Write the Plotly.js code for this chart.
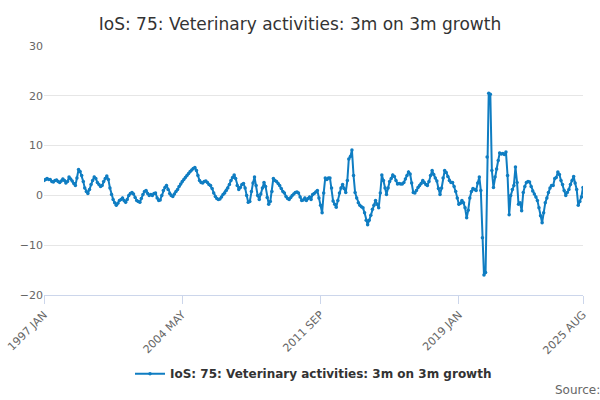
<!DOCTYPE html>
<html>
<head>
<meta charset="utf-8">
<script src="https://cdn.plot.ly/plotly-3.0.1.min.js"></script>
<style>body{margin:0}#chart{width:600px;height:400px}</style>
</head>
<body>
<div id="chart"></div>
<script>
const startYear = 1997;
const values = [
  3.0,3.2,3.4,3.2,3.2,2.8,2.7,3.0,3.1,2.8,2.6,2.9,
  3.3,3.0,2.5,2.8,3.7,3.3,2.9,2.4,2.0,3.5,5.2,4.8,
  4.0,2.8,1.5,0.8,0.4,1.2,2.2,3.0,3.7,3.4,2.6,2.2,
  1.8,2.0,2.8,3.4,3.9,3.2,1.5,0.2,-0.8,-1.5,-2.0,-1.6,
  -1.0,-0.8,-0.5,-1.0,-1.4,-0.8,0.0,0.4,0.6,0.3,-0.4,-1.0,
  -1.2,-1.4,-0.6,0.2,0.8,1.0,0.4,0.0,0.2,0.0,0.4,0.5,
  -0.5,-1.0,-0.9,0.0,1.0,1.6,2.0,1.2,0.4,0.0,-0.2,0.3,
  0.8,1.2,1.8,2.3,2.8,3.2,3.6,4.0,4.4,4.8,5.1,5.4,
  5.6,5.0,4.0,3.0,2.6,2.5,2.8,2.9,2.6,2.2,2.0,1.4,
  0.5,-0.2,-0.6,-0.8,-0.7,-0.3,0.2,0.5,1.0,1.5,2.2,3.0,
  3.6,4.1,3.4,2.0,1.2,1.6,2.2,2.4,1.5,0.0,-1.4,-1.2,
  0.8,2.5,3.7,2.0,0.0,-0.8,0.3,1.5,2.6,1.8,-0.4,-1.8,
  -1.2,0.8,3.4,3.0,2.8,2.4,2.0,1.4,0.8,0.5,-0.2,-0.6,
  -0.8,-0.4,0.0,0.3,0.6,0.7,0.5,-0.3,-1.0,-0.9,-0.5,-1.0,
  -0.6,-0.3,-0.8,0.2,0.4,0.7,1.0,-0.5,-2.0,-3.5,0.5,3.5,
  3.2,3.5,3.5,1.5,-1.1,-1.8,-2.4,-1.0,0.5,1.5,2.2,1.4,
  0.6,3.0,7.3,7.8,9.1,4.0,0.6,-0.5,-1.5,-2.0,-2.3,-2.5,
  -3.5,-5.0,-5.9,-5.0,-4.0,-2.8,-2.0,-1.0,-1.8,-2.5,0.5,4.1,
  3.0,1.5,0.2,1.5,2.8,3.4,4.1,3.8,3.0,2.3,2.4,2.3,
  2.3,2.6,3.3,4.0,4.7,4.3,2.5,0.6,0.5,1.0,1.6,2.0,
  2.4,3.0,2.6,2.2,2.0,2.8,4.0,5.0,4.2,3.5,2.9,1.4,
  0.2,1.5,3.5,5.0,4.6,3.8,3.0,2.6,2.6,1.8,0.8,-0.5,
  -1.8,-1.6,-1.0,-1.5,-2.5,-4.5,-3.0,-0.5,0.8,1.4,1.2,1.0,
  2.5,3.7,1.0,-8.5,-16.0,-15.5,7.7,20.5,20.3,5.0,1.6,3.7,
  5.3,7.0,8.5,8.3,8.4,8.2,8.7,4.0,-3.9,0.0,1.2,2.0,
  5.7,2.6,-1.8,-1.5,-3.1,0.6,1.8,2.6,2.8,2.7,1.8,0.9,
  0.3,-0.3,-1.0,-2.5,-4.1,-5.5,-3.5,-1.5,-0.5,0.6,1.5,2.0,
  2.0,3.4,3.6,4.7,4.2,3.0,2.2,1.0,0.0,0.6,1.2,2.2,
  3.0,3.8,2.5,1.2,-2.0,-1.2,-0.3,1.6
];
const tickMonths = ['1997-01-01', '2004-05-01', '2011-09-01', '2019-01-01', '2025-08-01'];
const tickLabels = ['1997 JAN', '2004 MAY', '2011 SEP', '2019 JAN', '2025 AUG'];

const dates = values.map((v, i) => {
  const y = startYear + Math.floor(i / 12);
  const m = (i % 12) + 1;
  return `${y}-${String(m).padStart(2, '0')}-01`;
});

const trace = {
  type: 'scatter',
  mode: 'lines+markers',
  name: '<b>IoS: 75: Veterinary activities: 3m on 3m growth</b>',
  x: dates,
  y: values,
  line: { color: '#0f7dc2', width: 2 },
  marker: { color: '#0f7dc2', size: 3.5 },
};

const layout = {
  width: 600, height: 400,
  font: { family: 'DejaVu Sans, sans-serif', size: 11, color: '#666' },
  title: { text: 'IoS: 75: Veterinary activities: 3m on 3m growth', x: 0.5, y: 0.955, font: { size: 17, color: '#333' } },
  margin: { l: 44, r: 17, t: 46, b: 108 - 10 },
  paper_bgcolor: '#fff', plot_bgcolor: '#fff',
  xaxis: {
    type: 'date', range: ['1997-01-01', '2025-08-01'],
    tickvals: tickMonths, ticktext: tickLabels, tickangle: -45,
    showgrid: false, zeroline: false, showline: true, linecolor: '#ccd6eb',
    ticks: 'outside', ticklen: 8, tickcolor: '#ccd6eb', tickfont: { size: 11, color: '#666' }
  },
  yaxis: {
    range: [-20, 30], dtick: 10, gridcolor: '#e6e6e6', zeroline: false,
    tickfont: { size: 11, color: '#666' }
  },
  showlegend: true,
  legend: { orientation: 'h', x: 0.5, xanchor: 'center', y: -0.316, yanchor: 'middle', font: { size: 12, color: '#333' } },
  annotations: [{ text: 'Source:', xref: 'paper', yref: 'paper', x: 1.035, y: -0.38, xanchor: 'right', yanchor: 'middle', showarrow: false, font: { size: 12, color: '#666' } }]
};

Plotly.newPlot('chart', [trace], layout, { displayModeBar: false });
</script>
</body>
</html>
